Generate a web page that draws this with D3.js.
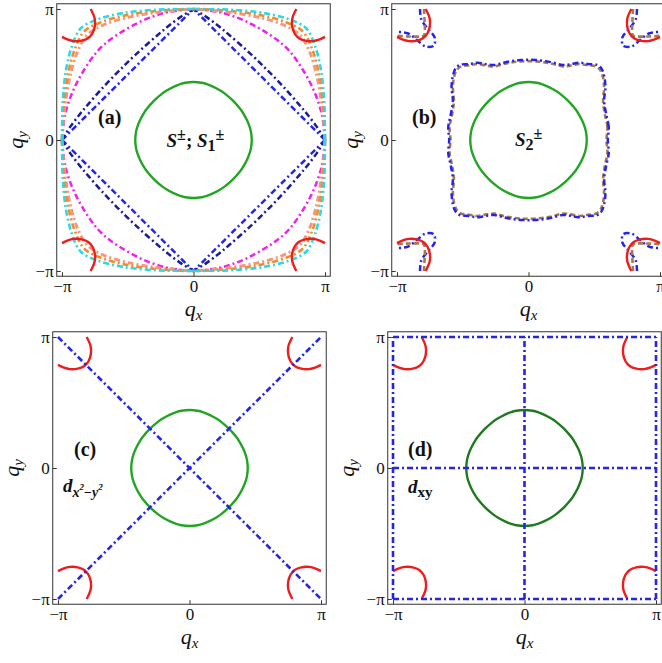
<!DOCTYPE html>
<html lang="en">
<head>
<meta charset="utf-8">
<title>Fermi surface and gap nodes</title>
<script src="https://cdn.jsdelivr.net/npm/d3@7/dist/d3.min.js"></script>
<style>
body { margin: 0; background: #fff; }
svg { display: block; }
text { font-family: "Liberation Serif", "Times New Roman", serif; fill: #111; }
</style>
</head>
<body>
<script>
// every value below is in units of pi
var tickValues = [-1, 0, 1];
var tickLabels = ["\u2212\u03c0", "0", "\u03c0"];
var panelNames = ["(a)", "(b)", "(c)", "(d)"];

// hole pocket around Gamma, first quadrant, from (qx,0) round to (0,qy)
var greenPocket = [[0.443, 0], [0.437, 0.062], [0.427, 0.101], [0.406, 0.152], [0.376, 0.207], [0.356, 0.236],
                   [0.3, 0.3], [0.236, 0.356], [0.207, 0.376], [0.152, 0.406], [0.101, 0.427], [0.062, 0.437],
                   [0, 0.443]];

// electron pocket piece at each corner, (dx, dy) measured inward from the corner
var redPocket = [[0.218, 0], [0.248, 0.07], [0.25, 0.13], [0.232, 0.185], [0.2, 0.222],
                 [0.15, 0.242], [0.09, 0.245], [0.04, 0.232], [0, 0.213]];

// panel (a): nodal lines, first quadrant
var nodesBlue = [[1, 0], [0, 1]];
var nodesNavy = [[1, 0], [0.938, 0.1], [0.862, 0.2], [0.8, 0.274], [0.689, 0.4], [0.6, 0.494], [0.547, 0.547],
                 [0.494, 0.6], [0.4, 0.689], [0.274, 0.8], [0.2, 0.862], [0.1, 0.938], [0, 1]];
var nodesMagenta = [[1, 0], [0.975, 0.2], [0.905, 0.4], [0.79, 0.6], [0.705, 0.705], [0.6, 0.79],
                    [0.4, 0.905], [0.2, 0.975], [0, 1]];
var nodesSalmon = [[1, 0], [0.99, 0.14], [0.975, 0.27], [0.94, 0.48], [0.88, 0.68], [0.805, 0.805],
                   [0.68, 0.88], [0.48, 0.94], [0.27, 0.975], [0.14, 0.99], [0, 1]];
var nodesOrange = [[1, 0], [0.995, 0.14], [0.985, 0.28], [0.955, 0.5], [0.9, 0.7], [0.83, 0.83],
                   [0.7, 0.9], [0.5, 0.955], [0.28, 0.985], [0.14, 0.995], [0, 1]];
var nodesCyan = [[1, 0], [0.998, 0.14], [0.995, 0.28], [0.97, 0.53], [0.92, 0.73], [0.855, 0.855],
                 [0.73, 0.92], [0.53, 0.97], [0.28, 0.995], [0.14, 0.998], [0, 1]];

// panel (b): wavy nodal loop (first quadrant) and corner nodes
var loopBlue = [[0.603, 0], [0.61, 0.1], [0.59, 0.2], [0.575, 0.3], [0.585, 0.4], [0.575, 0.49], [0.555, 0.545],
                [0.52, 0.574], [0.45, 0.58], [0.39, 0.59], [0.32, 0.578], [0.26, 0.572], [0.19, 0.59],
                [0.13, 0.602], [0.06, 0.61], [0, 0.612]];
var loopBrown = [[0.593, 0], [0.6, 0.1], [0.58, 0.2], [0.567, 0.3], [0.575, 0.4], [0.565, 0.485], [0.545, 0.535],
                 [0.51, 0.563], [0.45, 0.57], [0.39, 0.58], [0.32, 0.568], [0.26, 0.562], [0.19, 0.58],
                 [0.13, 0.592], [0.06, 0.6], [0, 0.602]];
var leafBlue = [[0.175, 0], [0.185, 0.08], [0.235, 0.15], [0.285, 0.215], [0.28, 0.28], [0.215, 0.285],
                [0.15, 0.235], [0.08, 0.185], [0, 0.175]];
var cornerBrown = [[0.205, 0], [0.21, 0.1], [0.21, 0.19], [0.2, 0.207], [0.19, 0.21], [0.1, 0.21], [0, 0.205]];

// panel (c): d x2-y2 nodes, panel (d): d xy nodes
var diagNodes = [[[-1, -1], [1, 1]], [[-1, 1], [1, -1]]];
var xyNodes = [-1, 0, 1];

var W = 662, H = 663;
var pw = 263, ph = 262, pad = 0.04;
var panelPos = [[62, 9], [397, 9], [58, 337], [393, 337]];

var dashDot = "6,3,2,3";

var svg = d3.select("body").append("svg")
            .attr("width", W)
            .attr("height", H);

var corners = [[1, 1], [-1, 1], [-1, -1], [1, -1]];

function quad(q, sx, sy) {
  return q.map(function(p) { return [sx * p[0], sy * p[1]]; });
}
function atCorner(q, sx, sy) {
  return q.map(function(p) { return [sx * (1 - p[0]), sy * (1 - p[1])]; });
}
// whole closed curve from one quadrant
function ring(q) {
  var r = q.slice();
  var rev = q.slice().reverse();
  rev.slice(1).forEach(function(p) { r.push([-p[0], p[1]]); });
  q.slice(1).forEach(function(p) { r.push([-p[0], -p[1]]); });
  rev.slice(1, -1).forEach(function(p) { r.push([p[0], -p[1]]); });
  return r;
}

panelPos.forEach(function(pos, i) {
  var g = svg.append("g").attr("transform", "translate(" + pos[0] + "," + pos[1] + ")");
  var x = d3.scaleLinear().domain([-1, 1]).range([0, pw]);
  var y = d3.scaleLinear().domain([-1, 1]).range([ph, 0]);

  var fx0 = x(-1 - pad), fx1 = x(1 + pad), fy0 = y(1 + pad), fy1 = y(-1 - pad);

  g.append("clipPath").attr("id", "clip" + i)
   .append("rect").attr("x", fx0).attr("y", fy0).attr("width", fx1 - fx0).attr("height", fy1 - fy0);

  var plot = g.append("g").attr("clip-path", "url(#clip" + i + ")");

  var smooth = d3.line().x(function(d) { return x(d[0]); }).y(function(d) { return y(d[1]); })
                 .curve(d3.curveCatmullRom);
  var closed = d3.line().x(function(d) { return x(d[0]); }).y(function(d) { return y(d[1]); })
                 .curve(d3.curveCatmullRomClosed.alpha(0.5));
  var straight = d3.line().x(function(d) { return x(d[0]); }).y(function(d) { return y(d[1]); });

  function path(d, gen, color, width, dash) {
    plot.append("path")
        .attr("d", gen(d))
        .attr("fill", "none")
        .attr("stroke", color)
        .attr("stroke-width", width)
        .attr("stroke-dasharray", dash || null);
  }
  function quads(q, color, width, dash) {
    corners.forEach(function(c) { path(quad(q, c[0], c[1]), smooth, color, width, dash); });
  }
  function cornerSet(q, color, width, dash) {
    corners.forEach(function(c) { path(atCorner(q, c[0], c[1]), smooth, color, width, dash); });
  }

  var green = i == 3 ? "#1f7a1f" : "#22a522";

  if (i == 0) {
    quads(nodesBlue, "#2424ee", 2.5, dashDot);
    quads(nodesNavy, "#1c1c99", 2.5, dashDot);
    quads(nodesMagenta, "#ee22ee", 2.5, dashDot);
    quads(nodesSalmon, "#f4977a", 3, dashDot);
    quads(nodesOrange, "#f58a2a", 2.6, dashDot);
    quads(nodesCyan, "#2ad8e8", 2.6, dashDot);
    cornerSet(redPocket, "#ee1c1c", 2.4);
    path(ring(greenPocket), closed, green, 2.4);
  }
  if (i == 1) {
    path(ring(loopBrown), closed, "#a57a4e", 2.6, "5,3");
    path(ring(loopBlue), closed, "#2424ee", 2.5, dashDot);
    cornerSet(leafBlue, "#2424ee", 2.5, dashDot);
    cornerSet(cornerBrown, "#a57a4e", 2.6, "5,3");
    cornerSet(redPocket, "#ee1c1c", 2.4);
    path(ring(greenPocket), closed, green, 2.4);
  }
  if (i == 2) {
    cornerSet(redPocket, "#ee1c1c", 2.4);
    path(ring(greenPocket), closed, green, 2.4);
    diagNodes.forEach(function(l) { path(l, straight, "#2424ee", 2.6, dashDot); });
  }
  if (i == 3) {
    cornerSet(redPocket, "#ee1c1c", 2.4);
    path(ring(greenPocket), closed, green, 2.4);
    xyNodes.forEach(function(v) {
      path([[v, -1], [v, 1]], straight, "#2424ee", 2.6, dashDot);
      path([[-1, v], [1, v]], straight, "#2424ee", 2.6, dashDot);
    });
  }

  // frame
  g.append("rect")
   .attr("x", fx0).attr("y", fy0).attr("width", fx1 - fx0).attr("height", fy1 - fy0)
   .attr("fill", "none").attr("stroke", "#333").attr("stroke-width", 1);

  var xAxis = d3.axisBottom(x).tickValues(tickValues)
                .tickFormat(function(d, k) { return tickLabels[k]; })
                .tickSize(-4).tickPadding(4);
  var yAxis = d3.axisLeft(y).tickValues(tickValues)
                .tickFormat(function(d, k) { return tickLabels[k]; })
                .tickSize(-4).tickPadding(3);

  var gx = g.append("g").attr("transform", "translate(0," + fy1 + ")").call(xAxis);
  var gy = g.append("g").attr("transform", "translate(" + fx0 + ",0)").call(yAxis);
  [gx, gy].forEach(function(a) {
    a.select(".domain").remove();
    a.selectAll("line").attr("stroke", "#333");
    a.selectAll("text").attr("font-size", 17).attr("fill", "#111");
  });

  // axis titles
  var tx = g.append("text").attr("x", x(0)).attr("y", y(-1) + 45)
            .attr("text-anchor", "middle").attr("font-size", 22);
  tx.append("tspan").attr("font-style", "italic").text("q");
  tx.append("tspan").attr("font-style", "italic").attr("font-size", 15).attr("dy", 4).text("x");

  var ty = g.append("text")
            .attr("transform", "translate(" + (x(-1) - 39) + "," + y(0) + ") rotate(-90)")
            .attr("text-anchor", "middle").attr("font-size", 22);
  ty.append("tspan").attr("font-style", "italic").text("q");
  ty.append("tspan").attr("font-style", "italic").attr("font-size", 15).attr("dy", 4).text("y");

  // panel tag
  var tagPos = [[-0.726, 0.122], [-0.886, 0.125], [-0.878, 0.09], [-0.886, 0.09]];
  g.append("text").attr("x", x(tagPos[i][0])).attr("y", y(tagPos[i][1]))
   .attr("font-size", 20).attr("font-weight", "bold").text(panelNames[i]);

  // pairing symmetry label
  var t;
  if (i == 0) {
    t = g.append("text").attr("x", x(-0.205)).attr("y", y(-0.05))
         .attr("font-size", 19).attr("font-weight", "bold");
    t.append("tspan").attr("font-style", "italic").text("S");
    t.append("tspan").attr("font-size", 16).attr("dy", -7).text("\u00b1");
    t.append("tspan").attr("dy", 7).text("; ");
    t.append("tspan").attr("font-style", "italic").text("S");
    t.append("tspan").attr("font-size", 16).attr("dy", 4).text("1");
    t.append("tspan").attr("font-size", 16).attr("dy", -11).text("\u00b1");
  }
  if (i == 1) {
    t = g.append("text").attr("x", x(-0.103)).attr("y", y(-0.047))
         .attr("font-size", 19).attr("font-weight", "bold");
    t.append("tspan").attr("font-style", "italic").text("S");
    t.append("tspan").attr("font-size", 16).attr("dy", 4).text("2");
    t.append("tspan").attr("font-size", 16).attr("dy", -11).text("\u00b1");
  }
  if (i == 2) {
    t = g.append("text").attr("x", x(-0.962)).attr("y", y(-0.181))
         .attr("font-size", 19).attr("font-weight", "bold").attr("font-style", "italic");
    t.append("tspan").text("d");
    t.append("tspan").attr("font-size", 14).attr("dy", 5).text("x");
    t.append("tspan").attr("font-size", 9).attr("dy", -7).text("2");
    t.append("tspan").attr("font-size", 14).attr("dy", 7).attr("font-style", "normal").text("\u2212");
    t.append("tspan").attr("font-size", 14).text("y");
    t.append("tspan").attr("font-size", 9).attr("dy", -7).text("2");
  }
  if (i == 3) {
    t = g.append("text").attr("x", x(-0.886)).attr("y", y(-0.19))
         .attr("font-size", 19).attr("font-weight", "bold");
    t.append("tspan").attr("font-style", "italic").text("d");
    t.append("tspan").attr("font-size", 15).attr("dy", 4).text("xy");
  }
});
</script>
</body>
</html>
